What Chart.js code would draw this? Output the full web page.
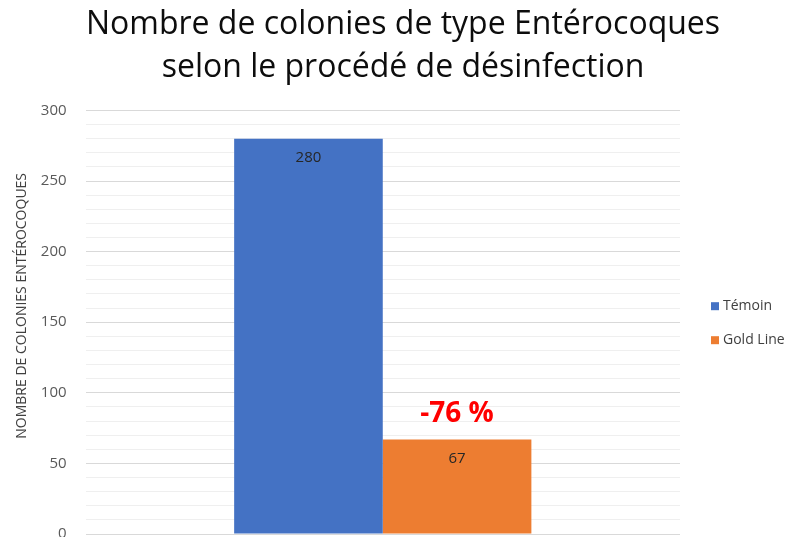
<!DOCTYPE html>
<html>
<head>
<meta charset="utf-8">
<script src="https://cdn.jsdelivr.net/npm/chart.js@4/dist/chart.umd.min.js"></script>
<style>
    html, body { margin: 0; padding: 0; background: #fff; overflow: hidden; }
    #wrap { width: 798px; height: 545px; }
</style>
</head>
<body>
<div id="wrap"><canvas id="chart"></canvas></div>
<script>
// Data
const categories = ['Enterocoques'];
const seriesNames = ['Témoin', 'Gold Line'];
const temoinValues = [280];
const goldLineValues = [67];
const reductionLabel = '-76 %';
const yTicks = [0, 50, 100, 150, 200, 250, 300];

const FONT = '"Open Sans", sans-serif';

// values inside bars, red reduction label, legend on the right
const barLabels = {
    id: 'barLabels',
    afterDatasetsDraw(chart) {
        const ctx = chart.ctx;
        const area = chart.chartArea;
        ctx.save();
        ctx.textAlign = 'center';
        ctx.textBaseline = 'middle';
        chart.data.datasets.forEach((ds, i) => {
            chart.getDatasetMeta(i).data.forEach((bar, j) => {
                ctx.font = '15px ' + FONT;
                ctx.fillStyle = '#262626';
                ctx.fillText(ds.data[j], bar.x, bar.y + 19);
            });
        });
        const gold = chart.getDatasetMeta(1).data[0];
        ctx.font = 'bold 28px ' + FONT;
        ctx.fillStyle = '#ff0000';
        ctx.fillText(reductionLabel, gold.x, gold.y - 25);

        // legend
        const midY = (area.top + area.bottom) / 2;
        ctx.textAlign = 'left';
        ctx.font = '14px ' + FONT;
        chart.data.datasets.forEach((ds, i) => {
            const y = midY - 16 + i * 34;
            ctx.fillStyle = ds.backgroundColor;
            ctx.fillRect(area.right + 31, y - 4, 8, 8);
            ctx.fillStyle = '#404040';
            ctx.fillText(ds.label, area.right + 43, y);
        });
        ctx.restore();
    }
};

new Chart(document.getElementById('chart'), {
    type: 'bar',
    data: {
        labels: categories,
        datasets: [{
            label: seriesNames[0],
            data: temoinValues,
            backgroundColor: '#4472c4'
        }, {
            label: seriesNames[1],
            data: goldLineValues,
            backgroundColor: '#ed7d31'
        }]
    },
    options: {
        responsive: true,
        maintainAspectRatio: false,
        animation: false,
        layout: { padding: { left: 8, right: 0, top: 3, bottom: 4 } },
        datasets: {
            bar: { categoryPercentage: 0.5, barPercentage: 1.0 }
        },
        scales: {
            x: { display: false, ticks: { display: false } },
            y: {
                min: 0,
                max: 300,
                border: { display: false },
                ticks: {
                    stepSize: 10,
                    autoSkip: false,
                    padding: 2,
                    color: '#595959',
                    font: { family: FONT, size: 15 },
                    callback: v => yTicks.includes(v) ? v : ''
                },
                grid: {
                    drawTicks: true,
                    tickLength: 17,
                    tickColor: 'rgba(0,0,0,0)',
                    color: c => c.tick.value % 50 === 0 ? '#d9d9d9' : '#efefef'
                },
                title: {
                    display: true,
                    // leading spaces lift the label a little above the axis centre
                    text: '\u00a0'.repeat(9) + 'NOMBRE DE COLONIES ENTÉROCOQUES',
                    color: '#404040',
                    font: { family: FONT, size: 14 },
                    padding: { top: 6, bottom: 8 }
                }
            },
            // empty right-hand space for the legend
            side: {
                type: 'linear',
                position: 'right',
                display: true,
                grid: { display: false },
                border: { display: false },
                ticks: { display: false },
                afterFit: s => { s.width = 118; }
            }
        },
        plugins: {
            title: {
                display: true,
                text: ['Nombre de colonies de type Entérocoques', 'selon le procédé de désinfection'],
                color: '#0d0d0d',
                font: { family: FONT, size: 32, weight: 'normal', lineHeight: 1.35 },
                padding: { top: 0, bottom: 21 }
            },
            legend: { display: false },
            tooltip: { enabled: false }
        }
    },
    plugins: [barLabels]
});
</script>
</body>
</html>
